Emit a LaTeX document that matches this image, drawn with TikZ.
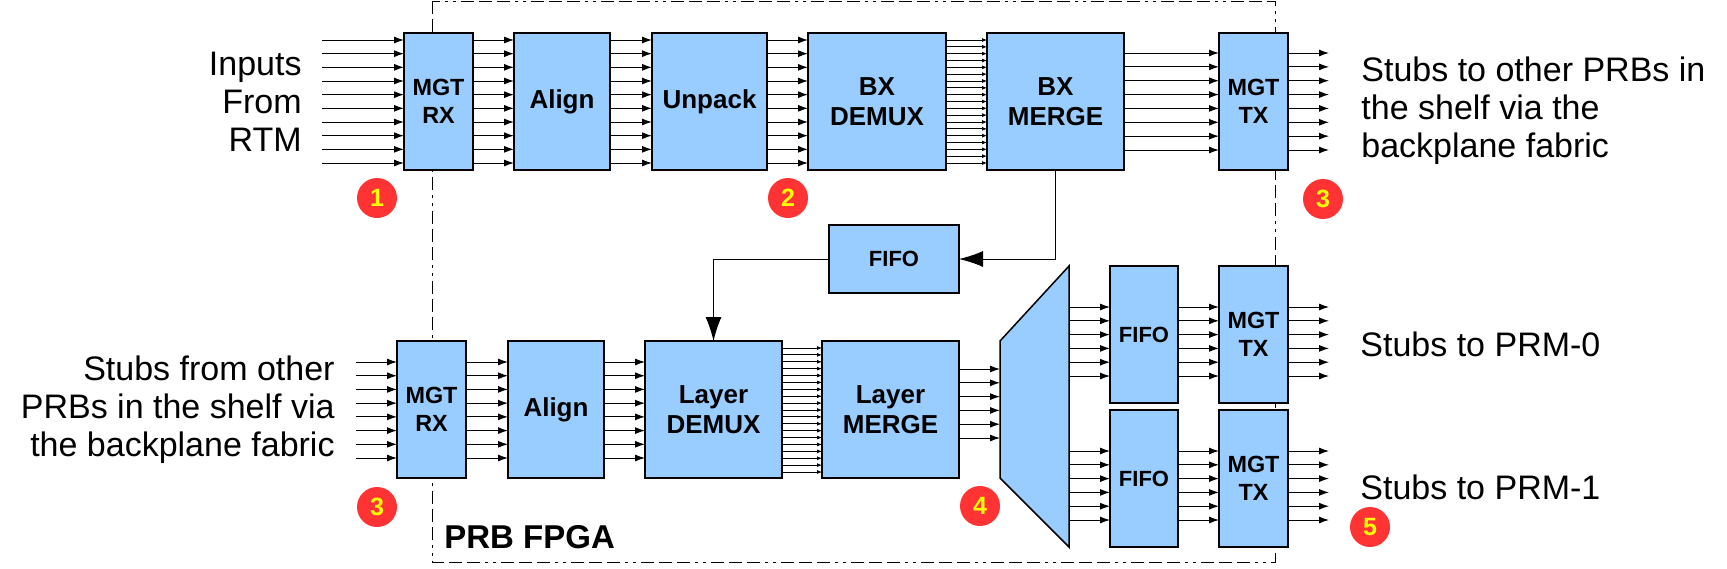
\documentclass[tikz,border=0pt]{standalone}
\usepackage{fontspec}
\setmainfont{Liberation Sans}
\usetikzlibrary{positioning, arrows.meta}
\definecolor{boxblue}{HTML}{99CCFF}
\definecolor{badgered}{HTML}{FF3333}
\definecolor{badgeyellow}{HTML}{FFFF00}

\begin{document}
\begin{tikzpicture}[x=0.5pt, y=-0.5pt, node distance=20.5pt,
    >={Latex[length=5pt,width=3.5pt]},
    blk/.style={draw, fill=boxblue, line width=0.75pt, inner sep=0pt, outer sep=0pt,
      minimum height=68.5pt, align=center, font=\bfseries\fontsize{13}{15}\selectfont},
    mgt/.style={blk, minimum width=34.5pt, font=\bfseries\fontsize{11.7}{13.8}\selectfont},
    fifo/.style={blk, minimum width=34pt, font=\bfseries\fontsize{11}{13}\selectfont},
    wire/.style={->, line width=0.5pt},
    fine/.style={-{Latex[length=2.5pt,width=2pt]}, line width=0.4pt},
    big/.style={-{Latex[length=12pt,width=8pt]}, line width=0.5pt},
    caption/.style={inner sep=0pt, font=\fontsize{17}{19}\selectfont},
    badge/.style={circle, fill=badgered, minimum size=20pt, inner sep=0pt,
      text=badgeyellow, font=\bfseries\fontsize{12.5}{14}\selectfont},
    frame/.style={line width=0.5pt, dash pattern=on 6.5pt off 2.5pt on 6.5pt off 2.5pt
      on 6.5pt off 2.5pt on 1.5pt off 2.5pt on 1.5pt off 2.5pt}]
  \useasboundingbox (0,0) rectangle (1727,568);

  % fpga
  \draw [frame] (432,1) rectangle (1275,562);
  \node [anchor=west, inner sep=0pt, font=\bfseries\fontsize{16.5}{18}\selectfont] (fpga) at (444,537) {PRB FPGA};

  % bloques superiores
  \node [mgt] (rxA) at (438.5,101.5) {MGT\\RX};
  \node [blk, minimum width=48pt] (alignA) [right=of rxA] {Align};
  \node [blk, minimum width=57.5pt] (unpack) [right=21pt of alignA] {Unpack};
  \node [blk, minimum width=69pt] (bxdemux) [right=of unpack] {BX\\DEMUX};
  \node [blk, minimum width=68.5pt] (bxmerge) [right=of bxdemux] {BX\\MERGE};
  \node [mgt] (txA) [right=47.5pt of bxmerge] {MGT\\TX};
  \node [blk, minimum width=65pt, minimum height=34pt, font=\bfseries\fontsize{11}{13}\selectfont]
    (fifo) at (894,259) {FIFO};

  % bloques inferiores
  \node [mgt] (rxB) at (431.5,409.5) {MGT\\RX};
  \node [blk, minimum width=48pt] (alignB) [right=21pt of rxB] {Align};
  \node [blk, minimum width=68.5pt] (ldemux) [right=of alignB] {Layer\\DEMUX};
  \node [blk, minimum width=68.5pt] (lmerge) [right=20pt of ldemux] {Layer\\MERGE};
  \node [fifo] (fifoP0) at (1144,334.5) {FIFO};
  \node [mgt] (txP0) [right=of fifoP0] {MGT\\TX};
  \node [fifo] (fifoP1) [below=3.5pt of fifoP0] {FIFO};
  \node [mgt] (txP1) [right=of fifoP1] {MGT\\TX};

  % demultiplexor
  \coordinate (muxA) at ([xshift=20.5pt]lmerge.north east);
  \coordinate (muxD) at ([xshift=20.5pt]lmerge.south east);
  \coordinate (muxB) at ([xshift=-20.5pt]fifoP0.north west);
  \coordinate (muxC) at ([xshift=-20.5pt]fifoP1.south west);
  \draw [fill=boxblue, line width=0.75pt] (muxA) -- (muxB) -- (muxC) -- (muxD) -- cycle;

  % extremos libres
  \coordinate (inA) at ([xshift=-41pt]rxA.west);
  \coordinate (outA) at ([xshift=20.5pt]txA.east);
  \coordinate (inB) at ([xshift=-20.5pt]rxB.west);
  \coordinate (outP0) at ([xshift=20.5pt]txP0.east);
  \coordinate (outP1) at ([xshift=20.5pt]txP1.east);

  % textos
  \node [caption, anchor=east, align=right] (txtIn) at ([xshift=-10pt]inA) {Inputs\\From\\RTM};
  \node [caption, anchor=west, align=left] (txtOut) at ([xshift=16pt, yshift=-4.75pt]outA)
    {Stubs to other PRBs in\\the shelf via the\\backplane fabric};
  \node [caption, anchor=east, align=right] (txtInB) at ([xshift=-10.5pt]inB)
    {Stubs from other\\PRBs in the shelf via\\the backplane fabric};
  \node [caption, anchor=west] (txtP0) at ([xshift=15.5pt, yshift=-5pt]outP0) {Stubs to PRM-0};
  \node [caption, anchor=west] (txtP1) at ([xshift=15.5pt, yshift=-4.5pt]outP1) {Stubs to PRM-1};

  % flechas superiores
  \foreach \i [evaluate=\i as \y using 40+13.667*\i] in {0,...,9} {
    \draw [wire] (inA |- 0,\y) -- (rxA.west |- 0,\y);
    \draw [wire] (rxA.east |- 0,\y) -- (alignA.west |- 0,\y);
    \draw [wire] (alignA.east |- 0,\y) -- (unpack.west |- 0,\y);
    \draw [wire] (unpack.east |- 0,\y) -- (bxdemux.west |- 0,\y);
  }
  \foreach \i [evaluate=\i as \y using 40+6.833*\i] in {0,...,18}
    \draw [fine] (bxdemux.east |- 0,\y) -- (bxmerge.west |- 0,\y);
  \foreach \i [evaluate=\i as \y using 53+13.857*\i] in {0,...,7} {
    \draw [wire] (bxmerge.east |- 0,\y) -- (txA.west |- 0,\y);
    \draw [wire] (txA.east |- 0,\y) -- (outA |- 0,\y);
  }

  % realimentacion
  \draw [big] (bxmerge.south) |- (fifo.east);
  \draw [big] (fifo.west) -| (ldemux.north);

  % flechas inferiores
  \foreach \i [evaluate=\i as \y using 362+13.714*\i] in {0,...,7} {
    \draw [wire] (inB |- 0,\y) -- (rxB.west |- 0,\y);
    \draw [wire] (rxB.east |- 0,\y) -- (alignB.west |- 0,\y);
    \draw [wire] (alignB.east |- 0,\y) -- (ldemux.west |- 0,\y);
  }
  \foreach \i [evaluate=\i as \y using 348+6.889*\i] in {0,...,18}
    \draw [fine] (ldemux.east |- 0,\y) -- (lmerge.west |- 0,\y);
  \foreach \i [evaluate=\i as \y using 369+13.8*\i] in {0,...,5}
    \draw [wire] (lmerge.east |- 0,\y) -- (muxA |- 0,\y);
  \foreach \i [evaluate=\i as \y using 307+13.8*\i] in {0,...,5} {
    \draw [wire] (muxB |- 0,\y) -- (fifoP0.west |- 0,\y);
    \draw [wire] (fifoP0.east |- 0,\y) -- (txP0.west |- 0,\y);
    \draw [wire] (txP0.east |- 0,\y) -- (outP0 |- 0,\y);
  }
  \foreach \i [evaluate=\i as \y using 451+13.8*\i] in {0,...,5} {
    \draw [wire] (muxC |- 0,\y) -- (fifoP1.west |- 0,\y);
    \draw [wire] (fifoP1.east |- 0,\y) -- (txP1.west |- 0,\y);
    \draw [wire] (txP1.east |- 0,\y) -- (outP1 |- 0,\y);
  }

  % marcas
  \node [badge] (m1) at (377,198) {1};
  \node [badge] (m2) at (788,198) {2};
  \node [badge] (m3a) at (1323,199) {3};
  \node [badge] (m3b) at (377,507) {3};
  \node [badge] (m4) at (980,506) {4};
  \node [badge] (m5) at (1370,527) {5};
\end{tikzpicture}
\end{document}
